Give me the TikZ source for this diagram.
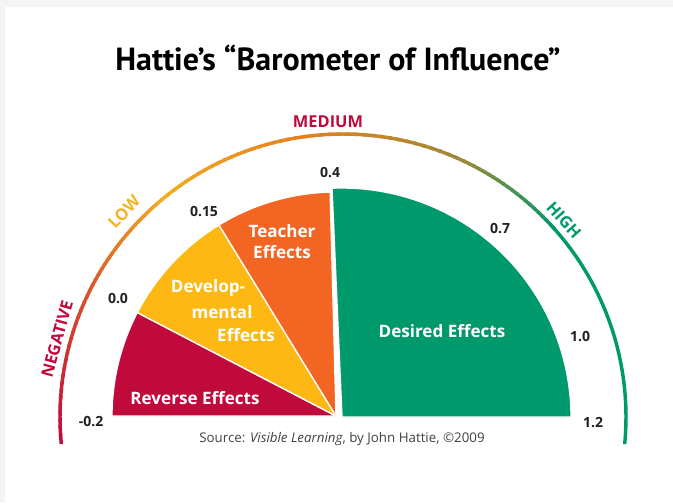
\documentclass[tikz,border=0pt]{standalone}
\usepackage{fontspec}
\setmainfont{Open Sans}
\newfontfamily\titlefont{PT Sans}
\definecolor{crim}{HTML}{C00A3C}
\definecolor{yel}{HTML}{FDB813}
\definecolor{org}{HTML}{F26522}
\definecolor{grn}{HTML}{00996C}
\definecolor{arcred}{HTML}{D9502A}
\definecolor{arcgold}{HTML}{F2AE22}
\definecolor{arcorange}{HTML}{E8801E}
\definecolor{arcolive}{HTML}{9A8A3A}
\definecolor{lowtxt}{HTML}{F3B325}
\definecolor{numc}{HTML}{231F20}
\definecolor{bggray}{HTML}{F4F4F4}
\begin{document}
\begin{tikzpicture}[x=0.75pt,y=0.75pt,
  wedgetxt/.style={text=white,font=\bfseries\fontsize{12.8}{15.75}\selectfont,align=center,inner sep=0pt},
  numlbl/.style={text=numc,font=\bfseries\fontsize{10.5}{12}\selectfont,inner sep=0pt},
  arclbl/.style={font=\bfseries\fontsize{12.3}{14}\selectfont,inner sep=0pt},
  wedge/.style={draw=white,line width=1pt,line join=round},
  gauge/.style={line width=2.6pt,line cap=butt}]
\fill[bggray] (0,0) rectangle (673,-503);
\fill[white] (5,-7) rectangle (673,-503);
\useasboundingbox (0,0) rectangle (673,-503);
% centres
\coordinate (L) at (336,-416);
\coordinate (G) at (342,-417);
\coordinate (C) at (343,-417);
% wedges
\filldraw[fill=crim,wedge] (L) -- ++(180:224) arc[start angle=180,end angle=152.5,radius=224] -- cycle;
\filldraw[fill=yel,wedge] (L) -- ++(152.5:224) arc[start angle=152.5,end angle=121.5,radius=224] -- cycle;
\filldraw[fill=org,wedge] (L) -- ++(121.5:224) arc[start angle=121.5,end angle=91.5,radius=224] -- cycle;
\filldraw[fill=grn,wedge] (G) -- ++(0:229) arc[start angle=0,end angle=92.5,radius=229] -- cycle;
% gauge arc with colour gradient
\foreach \s/\e/\ca/\cb in {185.5/155/crim/arcred, 155/130/arcred/arcgold, 130/100/arcgold/arcorange, 100/65/arcorange/arcolive, 65/42/arcolive/grn}{
  \foreach \k in {0,...,19}{
    \pgfmathsetmacro\aa{\s+(\e-\s)*\k/20}
    \pgfmathsetmacro\bb{\s+(\e-\s)*(\k+1.4)/20}
    \pgfmathtruncatemacro\pp{5*\k}
    \draw[gauge,\cb!\pp!\ca] (C) ++(\aa:283) arc[start angle=\aa,end angle=\bb,radius=283];
  }
}
\draw[gauge,grn] (C) ++(42.5:283) arc[start angle=42.5,end angle=-5.5,radius=283];
% title
\node[font=\titlefont\bfseries\fontsize{24}{28}\selectfont,inner sep=0pt] (title) at (338,-58) {Hattie’s “Barometer of Influence”};
% arc labels
\node[arclbl,text=crim,rotate=74.5] (neg) at (57,-339) {NEGATIVE};
\node[arclbl,text=lowtxt,rotate=47] (low) at (124,-212) {LOW};
\node[arclbl,text=crim] (med) at (328,-122) {MEDIUM};
\node[arclbl,text=grn,rotate=-48] (high) at (564,-220) {HIGH};
% scale numbers
\node[numlbl] (nm02) at (91,-422) {-0.2};
\node[numlbl] (n00) at (118,-299) {0.0};
\node[numlbl] (n015) at (204,-212) {0.15};
\node[numlbl] (n04) at (330,-173) {0.4};
\node[numlbl] (n07) at (500,-229) {0.7};
\node[numlbl] (n10) at (580,-337) {1.0};
\node[numlbl] (n12) at (593,-423) {1.2};
% wedge labels
\node[wedgetxt] (rev) at (195,-398) {Reverse Effects};
\node[wedgetxt] (dev1) at (208,-288) {Develop-};
\node[wedgetxt] (dev2) at (222,-312) {mental};
\node[wedgetxt] (dev3) at (246,-335) {Effects};
\node[wedgetxt] (teach) at (282,-242) {Teacher\\Effects};
\node[wedgetxt] (des) at (442,-331) {Desired Effects};
% source
\node[font=\fontsize{10}{12}\selectfont,text=numc!85,inner sep=0pt] (src) at (342,-439) {Source: \textit{Visible Learning}, by John Hattie, ©2009};
\end{tikzpicture}
\end{document}
